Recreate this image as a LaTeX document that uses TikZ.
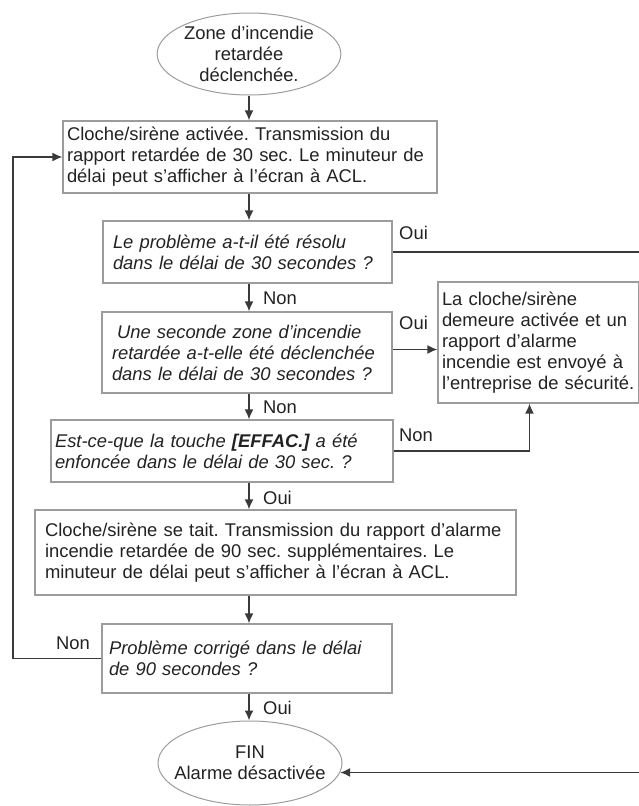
\documentclass[tikz,border=0pt]{standalone}
\usepackage{fontspec}
\setmainfont{Liberation Sans}
\usepackage{tikz}
\usetikzlibrary{arrows.meta,shapes.geometric}

\definecolor{bordgris}{HTML}{9C9C9C}
\definecolor{traitgris}{HTML}{3A3A3A}
\definecolor{textegris}{HTML}{222222}
\newcommand{\taille}{\fontsize{18.4}{21}\selectfont\frenchspacing}
\hyphenpenalty=10000
\exhyphenpenalty=10000

\tikzstyle{etape} = [rectangle, draw=bordgris, line width=1.2pt, align=left, text=textegris, inner ysep=0pt, font=\taille]
\tikzstyle{question} = [etape, font=\taille\itshape]
\tikzstyle{terminal} = [ellipse, draw=bordgris, line width=1pt, align=center, text=textegris, inner sep=0pt, font=\taille]
\tikzstyle{fleche} = [draw=traitgris, line width=1.6pt, -{Latex[length=10pt,width=9pt]}]
\tikzstyle{lbl} = [inner sep=1pt, text=textegris, font=\taille]

\begin{document}
\begin{tikzpicture}[x=1pt, y=-1pt]
 \useasboundingbox (0,0) rectangle (639,806);

 % boites
 \node (debut) [terminal, minimum width=183, minimum height=82] at (249,54)
  {Zone d’incendie\\retardée\\déclenchée.};
 \node (b1) [etape, text width=366, inner xsep=4, minimum height=72] at (250,157)
  {Cloche/sirène activée. Transmission du\\rapport retardée de 30 sec. Le minuteur de\\délai peut s’afficher à l’écran à ACL.};
 \node (q1) [question, text width=269, inner xsep=10, minimum height=62] at (247.5,252)
  {Le problème a-t-il été résolu\\dans le délai de 30 secondes ?};
 \node (q2) [question, text width=270, inner xsep=10, minimum height=81] at (247,352.5)
  {\hspace*{5pt}Une seconde zone d’incendie\\retardée a-t-elle été déclenchée\\dans le délai de 30 secondes ?};
 \node (alarme) [etape, text width=193, inner xsep=4, minimum height=121] at (538.5,342.5)
  {La cloche/sirène\\demeure activée et un\\rapport d’alarme\\incendie est envoyé à\\l’entreprise de sécurité.};
 \node (q3) [question, text width=334, inner xsep=4, minimum height=62] at (222,451)
  {Est-ce-que la touche \textbf{[EFFAC.]} a été\\enfoncée dans le délai de 30 sec. ?};
 \node (b2) [etape, text width=461, inner xsep=10, minimum height=85] at (275.5,552.5)
  {Cloche/sirène se tait. Transmission du rapport d’alarme\\incendie retardée de 90 sec. supplémentaires. Le\\minuteur de délai peut s’afficher à l’écran à ACL.};
 \node (q4) [question, text width=276, inner xsep=7, minimum height=69] at (247,658.5)
  {Problème corrigé dans le délai\\de 90 secondes ?};
 \node (fin) [terminal, inner xsep=-11pt, minimum width=184, minimum height=84] at (250,763)
  {FIN\\Alarme désactivée};

 % etiquettes
 \node (oui1) [lbl, anchor=west] at (398,233) {Oui};
 \node (non1) [lbl, anchor=west] at (262,298) {Non};
 \node (oui2) [lbl, anchor=west] at (398,323) {Oui};
 \node (non2) [lbl, anchor=west] at (262,407) {Non};
 \node (non3) [lbl, anchor=west] at (398,435) {Non};
 \node (oui3) [lbl, anchor=west] at (262,498) {Oui};
 \node (non4) [lbl, anchor=east] at (91,643) {Non};
 \node (oui4) [lbl, anchor=west] at (262,708) {Oui};

 \coordinate (gauche) at (13,0);
 \coordinate (droite) at (643,0);

 % fleches
 \draw[fleche] (debut.south) -- (b1.north -| debut.south);
 \draw[fleche] (b1.south -| debut) -- (q1.north -| debut);
 \draw[fleche] (q1.south -| debut) -- (q2.north -| debut);
 \draw[fleche] (q2.south -| debut) -- (q3.north -| debut);
 \draw[fleche] (q3.south -| debut) -- (b2.north -| debut);
 \draw[fleche] (b2.south -| debut) -- (q4.north -| debut);
 \draw[fleche] (q4.south -| debut) -- (fin.north -| debut);
 \draw[fleche] (q1.east) -- (q1.east -| droite) |- (fin.-6);
 \draw[fleche] ([yshift=3pt]q2.east) -- ([yshift=3pt]q2.east -| alarme.west);
 \draw[fleche] (q3.east) -| ([xshift=-9pt]alarme.south);
 \draw[fleche] (q4.west) -- (q4.west -| gauche) |- (b1.west);
\end{tikzpicture}
\end{document}
